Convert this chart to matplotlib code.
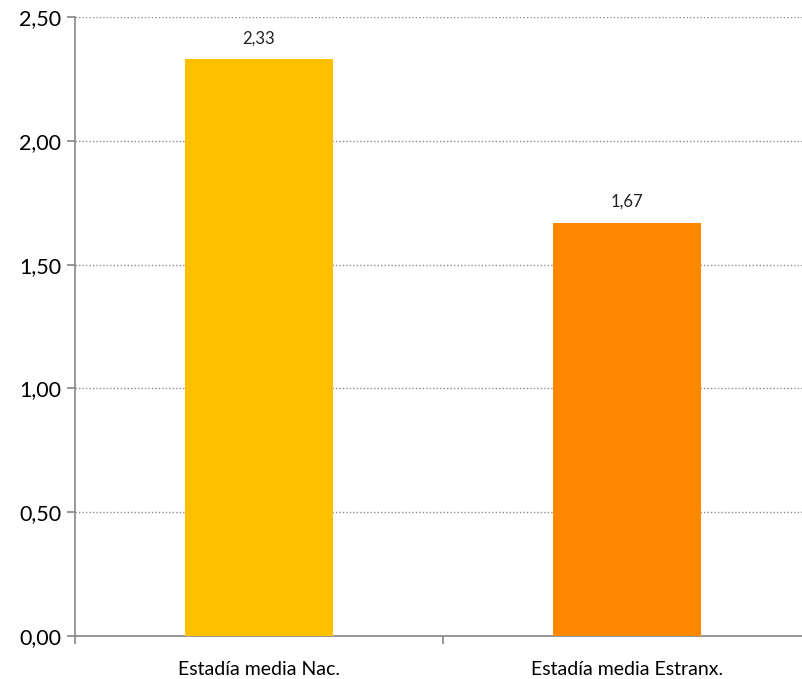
import matplotlib.pyplot as plt
from matplotlib.ticker import FuncFormatter, FixedLocator

categories = ['Estadía media Nac.', 'Estadía media Estranx.']
values = [2.33, 1.67]
colors = ['#FFC000', '#FF8800']
y_ticks = [0.0, 0.5, 1.0, 1.5, 2.0, 2.5]


def comma(v, pos=None):
    return f'{v:.2f}'.replace('.', ',')


plt.rcParams['font.family'] = ['Lato', 'DejaVu Sans']

fig = plt.figure(figsize=(8.03, 6.79), dpi=100)
ax = fig.add_axes([75 / 803, 1 - 636 / 679, 736 / 803, 619 / 679])

x = list(range(len(categories)))
bars = ax.bar(x, values, width=0.4, color=colors, zorder=3)
for b, v in zip(bars, values):
    ax.annotate(comma(v), (b.get_x() + b.get_width() / 2, v),
                xytext=(0, 9), textcoords='offset points',
                ha='center', va='bottom', fontsize=12, color='#222222')

ax.set_xlim(-0.5, len(categories) - 0.5)
ax.set_ylim(0, 2.5)
ax.set_yticks(y_ticks)
ax.yaxis.set_major_formatter(FuncFormatter(comma))
ax.grid(axis='y', color='#8c8c8c', linestyle=(0, (1, 1.5)), linewidth=1, zorder=0)

ax.set_xticks(x)
ax.set_xticklabels(categories)
ax.xaxis.set_minor_locator(FixedLocator([-0.5, 0.5, 1.5]))
ax.tick_params(axis='x', which='major', length=0, pad=18, labelsize=14)
ax.tick_params(axis='x', which='minor', length=6, color='#868686', width=1.2)
ax.tick_params(axis='y', length=6, color='#868686', width=1.2, labelsize=15.5, pad=4)

for s in ['top', 'right']:
    ax.spines[s].set_visible(False)
for s in ['left', 'bottom']:
    ax.spines[s].set_color('#868686')
    ax.spines[s].set_linewidth(1.2)

fig.savefig('out.png', dpi=100)
